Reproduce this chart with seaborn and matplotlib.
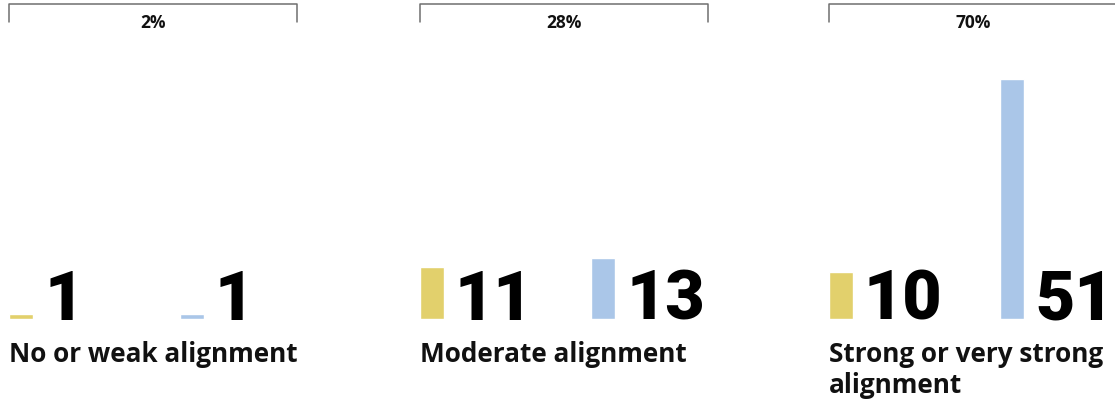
import matplotlib
matplotlib.use("Agg")
import matplotlib.pyplot as plt
import seaborn as sns
import pandas as pd

# data
categories = ["No or weak alignment", "Moderate alignment", "Strong or very strong\nalignment"]
shares = ["2%", "28%", "70%"]
series = ["first", "second"]
yellow_values = [1, 11, 10]
blue_values = [1, 13, 51]

colors = ["#E2D06C", "#AAC6E8"]

sns.set_theme(style="white")
plt.rcParams["font.family"] = ["Open Sans", "DejaVu Sans"]

W, H = 1115, 402
fig = plt.figure(figsize=(W / 100, H / 100), dpi=100)

lefts = [9, 420, 829]      # left edge of each group, px
group_w = 288               # bracket width, px
base_y = 320                # bar baseline, px from top
top_y = 5                   # bracket line, px from top
bar_px = 24                 # bar width
gap_px = 171                # distance between the two bars
tallest_px = 240            # height of the tallest bar
label_base = 362            # baseline of first label line
line_px = 31

ymax = max(blue_values + yellow_values) * (base_y - top_y) / tallest_px
bw = bar_px / gap_px

for i, cat in enumerate(categories):
    ax = fig.add_axes([lefts[i] / W, (H - base_y) / H, group_w / W, (base_y - top_y) / H])
    df = pd.DataFrame({"series": series, "value": [yellow_values[i], blue_values[i]]})
    sns.barplot(data=df, x="series", y="value", hue="series", palette=colors,
                width=bw, saturation=1, errorbar=None, legend=False, ax=ax)
    ax.set_xlim(-bw / 2, -bw / 2 + group_w / gap_px)
    ax.set_ylim(0, ymax)
    ax.axis("off")

    # big numbers next to bars
    for j, v in enumerate(df["value"]):
        ax.text(j + bw / 2 + 11 / gap_px, 0, str(v), ha="left", va="baseline",
                fontsize=49, fontweight="black", family=["Roboto", "DejaVu Sans"],
                color="black")

    # bracket with share
    tick = (base_y - 23) / (base_y - top_y)
    ax.plot([0, 0, 1, 1], [tick, 1, 1, tick], transform=ax.transAxes,
            clip_on=False, color="#6f6f6f", lw=1.1)
    ax.text(0.5, (base_y - 23) / (base_y - top_y), shares[i], transform=ax.transAxes,
            ha="center", va="center", fontsize=12.5, fontweight="bold", color="#111111")

    # category label (va=baseline pins the last line)
    n_lines = cat.count("\n") + 1
    fig.text(lefts[i] / W, (H - label_base - line_px * (n_lines - 1)) / H, cat,
             ha="left", va="baseline", fontsize=18.8, fontweight="bold",
             color="#111111", linespacing=1.2)

fig.savefig("out.png", dpi=100)
